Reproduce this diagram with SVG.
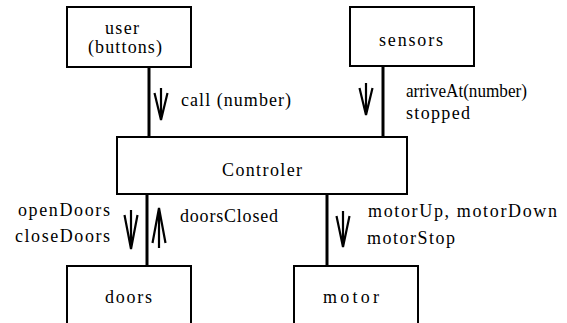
<svg xmlns="http://www.w3.org/2000/svg" width="567" height="323" viewBox="0 0 567 323">
<style>
.box{fill:#fff;stroke:#000;stroke-width:2}
.ln{stroke:#000;stroke-width:3;fill:none}
.ar{stroke:#000;stroke-width:2.2;fill:none;stroke-linejoin:miter}
</style>
<rect width="567" height="323" fill="#fff"/>
<g id="connectors">
<line class="ln" x1="149" y1="67" x2="149" y2="137"/>
<line class="ln" x1="383" y1="66" x2="383" y2="137"/>
<line class="ln" x1="147" y1="194" x2="147" y2="266"/>
<line class="ln" x1="327" y1="194" x2="327" y2="266"/>
<path class="ar" d="M161,88 V120 M154.5,93 L161,120 L167.5,93"/>
<path class="ar" d="M366,83 V115 M359.5,88 L366,115 L372.5,88"/>
<path class="ar" d="M131,210 V249 M124.5,215 L131,249 L137.5,215"/>
<path class="ar" d="M159,248 V208 M152.5,243 L159,208 L165.5,243"/>
<path class="ar" d="M343,211 V247 M336.5,216 L343,247 L349.5,216"/>
<g font-family="Liberation Serif, serif" font-size="18" fill="#000">
<text x="181" y="106" textLength="110" lengthAdjust="spacing">call (number)</text>
<text x="406" y="97" textLength="121" lengthAdjust="spacingAndGlyphs">arriveAt(number)</text>
<text x="406" y="119" textLength="64" lengthAdjust="spacing">stopped</text>
<text x="18" y="216" textLength="92" lengthAdjust="spacing">openDoors</text>
<text x="15" y="242" textLength="95" lengthAdjust="spacing">closeDoors</text>
<text x="180" y="222" textLength="98" lengthAdjust="spacing">doorsClosed</text>
<text x="368" y="217" textLength="189" lengthAdjust="spacing">motorUp, motorDown</text>
<text x="367" y="244" textLength="88" lengthAdjust="spacing">motorStop</text>
</g>
</g>
<g font-family="Liberation Serif, serif" font-size="18" fill="#000">
<g id="user">
<rect class="box" x="67" y="7" width="124" height="60"/>
<text x="105" y="34" textLength="34" lengthAdjust="spacing">user</text>
<text x="88" y="53" textLength="74" lengthAdjust="spacing">(buttons)</text>
</g>
<g id="sensors">
<rect class="box" x="350" y="7" width="124" height="59"/>
<text x="379" y="46" textLength="64" lengthAdjust="spacing">sensors</text>
</g>
<g id="controler">
<rect class="box" x="117" y="137" width="290" height="57"/>
<text x="222" y="176" textLength="80" lengthAdjust="spacing">Controler</text>
</g>
<g id="doors">
<rect class="box" x="67" y="266" width="124" height="70"/>
<text x="105" y="303" textLength="47" lengthAdjust="spacing">doors</text>
</g>
<g id="motor">
<rect class="box" x="294" y="266" width="124" height="70"/>
<text x="323" y="303" textLength="56" lengthAdjust="spacing">motor</text>
</g>
</g>
</svg>
